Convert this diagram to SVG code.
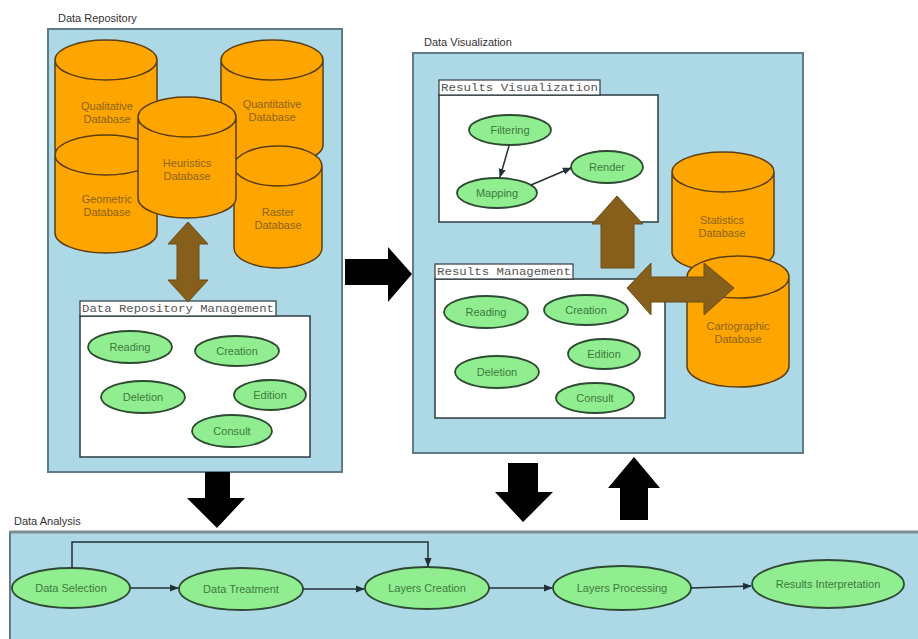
<svg xmlns="http://www.w3.org/2000/svg" width="918" height="639" viewBox="0 0 918 639">
<defs>
<style>
.panel{fill:#add8e6;stroke:#5f7d88;stroke-width:2}
.box{fill:#ffffff;stroke:#2e3b40;stroke-width:1.5}
.tab{fill:#ffffff;stroke:#2e3b40;stroke-width:1.2}
.tabt{font-family:"Liberation Mono",monospace;font-size:11px;fill:#555}
.plabel{font-family:"Liberation Sans",Arial,sans-serif;font-size:11px;fill:#333}
.cyl{fill:#ffa500;stroke:#5a3e14;stroke-width:1.5}
.cylt{font-family:"Liberation Sans",Arial,sans-serif;font-size:11px;fill:#8a6418;text-anchor:middle}
.ell{fill:#90ee90;stroke:#2e4a32;stroke-width:1.8}
.ellt{font-family:"Liberation Sans",Arial,sans-serif;font-size:11px;fill:#3c7a3c;text-anchor:middle}
.blk{fill:#000}
.brn{fill:#86601a;stroke:#6b4c14;stroke-width:1}
.con{fill:none;stroke:#223038;stroke-width:1.5}
</style>
<marker id="ah" viewBox="0 0 10 10" refX="9" refY="5" markerWidth="6" markerHeight="6" orient="auto">
<path d="M0,1 L10,5 L0,9 Z" fill="#223038"/>
</marker>
</defs>
<rect width="918" height="639" fill="#ffffff"/>

<!-- Data Repository -->
<g id="data-repository">
<text class="plabel" x="58" y="22">Data Repository</text>
<rect class="panel" x="48" y="29" width="294" height="443"/>
</g>
<g id="qualitative-db">
<path class="cyl" d="M55,60 L55,150 A51,20 0 0 0 157,150 L157,60 A51,20 0 0 0 55,60 Z M55,60 A51,20 0 0 0 157,60"/>
<text class="cylt" x="107" y="110">Qualitative</text><text class="cylt" x="107" y="123">Database</text>
</g>
<g id="quantitative-db">
<path class="cyl" d="M221,60 L221,145 A51,20 0 0 0 323,145 L323,60 A51,20 0 0 0 221,60 Z M221,60 A51,20 0 0 0 323,60"/>
<text class="cylt" x="272" y="108">Quantitative</text><text class="cylt" x="272" y="121">Database</text>
</g>
<g id="geometric-db">
<path class="cyl" d="M55,155 L55,233 A51,20 0 0 0 157,233 L157,155 A51,20 0 0 0 55,155 Z M55,155 A51,20 0 0 0 157,155"/>
<text class="cylt" x="107" y="203">Geometric</text><text class="cylt" x="107" y="216">Database</text>
</g>
<g id="raster-db">
<path class="cyl" d="M234,166 L234,248 A44,20 0 0 0 322,248 L322,166 A44,20 0 0 0 234,166 Z M234,166 A44,20 0 0 0 322,166"/>
<text class="cylt" x="278" y="216">Raster</text><text class="cylt" x="278" y="229">Database</text>
</g>
<g id="heuristics-db">
<path class="cyl" d="M138,117 L138,198 A49,20 0 0 0 236,198 L236,117 A49,20 0 0 0 138,117 Z M138,117 A49,20 0 0 0 236,117"/>
<text class="cylt" x="187" y="167">Heuristics</text><text class="cylt" x="187" y="180">Database</text>
</g>
<g id="data-repository-management">
<rect class="box" x="80" y="316" width="230" height="141"/>
<rect class="tab" x="80" y="301" width="196" height="15"/>
<text class="tabt" x="82" y="312" textLength="192" lengthAdjust="spacingAndGlyphs">Data Repository Management</text>
</g>
<g id="drm-reading"><ellipse class="ell" cx="130" cy="347" rx="42" ry="16"/><text class="ellt" x="130" y="351">Reading</text></g>
<g id="drm-creation"><ellipse class="ell" cx="237" cy="351" rx="42" ry="15"/><text class="ellt" x="237" y="355">Creation</text></g>
<g id="drm-deletion"><ellipse class="ell" cx="143" cy="397" rx="42" ry="16"/><text class="ellt" x="143" y="401">Deletion</text></g>
<g id="drm-edition"><ellipse class="ell" cx="270" cy="395" rx="36" ry="15"/><text class="ellt" x="270" y="399">Edition</text></g>
<g id="drm-consult"><ellipse class="ell" cx="232" cy="431" rx="40" ry="16"/><text class="ellt" x="232" y="435">Consult</text></g>

<!-- Data Visualization -->
<g id="data-visualization">
<text class="plabel" x="424" y="46">Data Visualization</text>
<rect class="panel" x="413" y="53" width="390" height="400"/>
</g>
<g id="results-visualization">
<rect class="box" x="439" y="95" width="219" height="127"/>
<rect class="tab" x="439" y="80" width="161" height="15"/>
<text class="tabt" x="441" y="91" textLength="157" lengthAdjust="spacingAndGlyphs">Results Visualization</text>
</g>
<g id="rv-filtering"><ellipse class="ell" cx="510" cy="130" rx="41" ry="15"/><text class="ellt" x="510" y="134">Filtering</text></g>
<g id="rv-mapping"><ellipse class="ell" cx="497" cy="193" rx="40" ry="15"/><text class="ellt" x="497" y="197">Mapping</text></g>
<g id="rv-render"><ellipse class="ell" cx="607" cy="167" rx="36" ry="16"/><text class="ellt" x="607" y="171">Render</text></g>
<g id="results-management">
<rect class="box" x="435" y="279" width="230" height="139"/>
<rect class="tab" x="435" y="264" width="138" height="15"/>
<text class="tabt" x="437" y="275" textLength="134" lengthAdjust="spacingAndGlyphs">Results Management</text>
</g>
<g id="rm-reading"><ellipse class="ell" cx="486" cy="312" rx="42" ry="16"/><text class="ellt" x="486" y="316">Reading</text></g>
<g id="rm-creation"><ellipse class="ell" cx="586" cy="310" rx="42" ry="15"/><text class="ellt" x="586" y="314">Creation</text></g>
<g id="rm-edition"><ellipse class="ell" cx="604" cy="354" rx="36" ry="15"/><text class="ellt" x="604" y="358">Edition</text></g>
<g id="rm-deletion"><ellipse class="ell" cx="497" cy="372" rx="42" ry="16"/><text class="ellt" x="497" y="376">Deletion</text></g>
<g id="rm-consult"><ellipse class="ell" cx="595" cy="398" rx="39" ry="15"/><text class="ellt" x="595" y="402">Consult</text></g>
<g id="statistics-db">
<path class="cyl" d="M672,172 L672,252 A51,20 0 0 0 774,252 L774,172 A51,20 0 0 0 672,172 Z M672,172 A51,20 0 0 0 774,172"/>
<text class="cylt" x="722" y="224">Statistics</text><text class="cylt" x="722" y="237">Database</text>
</g>
<g id="cartographic-db">
<path class="cyl" d="M687,277 L687,366 A51,21 0 0 0 789,366 L789,277 A51,21 0 0 0 687,277 Z M687,277 A51,21 0 0 0 789,277"/>
<text class="cylt" x="738" y="330">Cartographic</text><text class="cylt" x="738" y="343">Database</text>
</g>

<!-- Data Analysis -->
<g id="data-analysis">
<text class="plabel" x="14" y="525">Data Analysis</text>
<rect class="panel" x="10" y="532" width="920" height="120"/>
<line x1="10" y1="532" x2="918" y2="532" stroke="#7d8d92" stroke-width="3"/>
</g>
<g id="da-data-selection"><ellipse class="ell" cx="71" cy="588" rx="59" ry="20"/><text class="ellt" x="71" y="592">Data Selection</text></g>
<g id="da-data-treatment"><ellipse class="ell" cx="241" cy="589" rx="62" ry="21"/><text class="ellt" x="241" y="593">Data Treatment</text></g>
<g id="da-layers-creation"><ellipse class="ell" cx="427" cy="588" rx="62" ry="21"/><text class="ellt" x="427" y="592">Layers Creation</text></g>
<g id="da-layers-processing"><ellipse class="ell" cx="622" cy="588" rx="69" ry="22"/><text class="ellt" x="622" y="592">Layers Processing</text></g>
<g id="da-results-interpretation"><ellipse class="ell" cx="828" cy="584" rx="76" ry="24"/><text class="ellt" x="828" y="588">Results Interpretation</text></g>

<!-- Connectors -->
<g id="connectors">
<polygon class="brn" points="188,222 208,244 199,244 199,280 208,280 188,302 168,280 177,280 177,244 168,244"/>
<polygon class="brn" points="617,196 643,224 634,224 634,268 601,268 601,224 592,224"/>
<polygon class="brn" points="627,288 651,263 651,277 704,277 704,263 734,288 704,315 704,302 651,302 651,315"/>
<polygon class="blk" points="345,259 388,259 388,247 412,274 388,302 388,285 345,285"/>
<polygon class="blk" points="205,472 230,472 230,498 245,498 217,528 187,498 205,498"/>
<polygon class="blk" points="508,463 538,463 538,492 553,492 523,522 495,492 508,492"/>
<polygon class="blk" points="634,457 660,488 648,488 648,520 620,520 620,488 608,488"/>
<line class="con" x1="509" y1="146" x2="500" y2="177" marker-end="url(#ah)"/>
<line class="con" x1="531" y1="185" x2="571" y2="168" marker-end="url(#ah)"/>
<line class="con" x1="130" y1="588" x2="178" y2="588" marker-end="url(#ah)"/>
<line class="con" x1="303" y1="589" x2="364" y2="589" stroke-width="2.5" stroke="#4d5e66" marker-end="url(#ah)"/>
<line class="con" x1="489" y1="588" x2="552" y2="588" marker-end="url(#ah)"/>
<line class="con" x1="691" y1="588" x2="751" y2="586" marker-end="url(#ah)"/>
<polyline class="con" points="72,568 72,542 428,542 428,566" marker-end="url(#ah)"/>
</g>
</svg>
